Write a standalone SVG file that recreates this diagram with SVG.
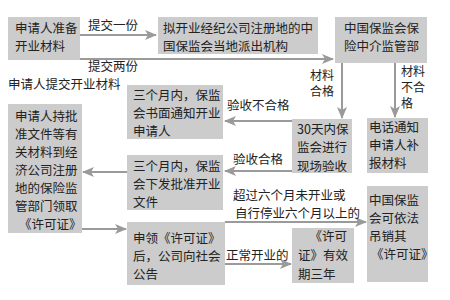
<svg xmlns="http://www.w3.org/2000/svg" width="450" height="300" viewBox="0 0 450 300">
<defs>
<marker id="ah" markerUnits="userSpaceOnUse" markerWidth="12" markerHeight="10" viewBox="0 0 12 10" refX="11" refY="5" orient="auto">
<path d="M0,0 L12,5 L0,10 L3,5 Z" fill="#9a9a9a"/>
</marker>
<style>
.box{fill:#cccccc;}
text{font-family:"Noto Sans CJK SC","Noto Sans",sans-serif;font-size:12.5px;fill:#222;}
.sm{font-size:12px;}
.c line{stroke:#9a9a9a;stroke-width:2;marker-end:url(#ah);}
</style>
</defs>
<rect width="450" height="300" fill="#ffffff"/>
<g id="n1"><rect class="box" x="8" y="17" width="72" height="43"/>
<text x="15" y="33">申请人准备</text><text x="15" y="51">开业材料</text></g>
<g id="n2"><rect class="box" x="158" y="17" width="160" height="37"/>
<text x="163" y="33">拟开业经纪公司注册地的中</text><text x="163" y="51">国保监会当地派出机构</text></g>
<g id="n3"><rect class="box" x="335" y="17" width="92" height="46"/>
<text x="344" y="33">中国保监会保</text><text x="344" y="51">险中介监管部</text></g>
<g id="n4"><rect class="box" x="127" y="85" width="96" height="54"/>
<text x="133" y="100">三个月内，保监</text><text x="133" y="118">会书面通知开业</text><text x="133" y="136">申请人</text></g>
<g id="n5"><rect class="box" x="8" y="104" width="74" height="129"/>
<text x="15" y="121">申请人持批</text><text x="15" y="139">准文件等有</text><text x="15" y="157">关材料到经</text><text x="15" y="175">济公司注册</text><text x="15" y="193">地的保险监</text><text x="15" y="211">管部门领取</text><text x="19" y="229">《许可证》</text></g>
<g id="n6"><rect class="box" x="127" y="155" width="96" height="55"/>
<text x="133" y="171">三个月内，保监</text><text x="133" y="189">会下发批准开业</text><text x="133" y="207">文件</text></g>
<g id="n7"><rect class="box" x="127" y="222" width="98" height="63"/>
<text x="133" y="243">申领《许可证》</text><text x="133" y="261">后，公司向社会</text><text x="133" y="279">公告</text></g>
<g id="n8"><rect class="box" x="292" y="119" width="60" height="54"/>
<text x="297" y="134">30天内保</text><text x="297" y="152">监会进行</text><text x="297" y="171">现场验收</text></g>
<g id="n9"><rect class="box" x="367" y="118" width="61" height="55"/>
<text x="369" y="132">电话通知</text><text x="369" y="150">申请人补</text><text x="369" y="168">报材料</text></g>
<g id="n10"><rect class="box" x="367" y="186" width="61" height="96"/>
<text x="369" y="205">中国保监</text><text x="369" y="223">会可依法</text><text x="369" y="241">吊销其</text><text x="371" y="259">《许可证》</text></g>
<g id="n11"><rect class="box" x="292" y="228" width="62" height="55"/>
<text x="347" y="241" text-anchor="end">《许可</text><text x="298" y="260">证》有效</text><text x="298" y="279">期三年</text></g>
<g id="connectors" class="c">
<line x1="80" y1="35" x2="156" y2="35"/>
<line x1="80" y1="59" x2="333" y2="59"/>
<line x1="342" y1="63" x2="342" y2="118"/>
<line x1="395" y1="63" x2="395" y2="117"/>
<line x1="292" y1="121" x2="225" y2="121"/>
<line x1="292" y1="171" x2="225" y2="171"/>
<line x1="127" y1="172" x2="83" y2="172"/>
<line x1="82" y1="229" x2="126" y2="229"/>
<line x1="225" y1="222" x2="366" y2="222"/>
<line x1="225" y1="264" x2="291" y2="264"/>
</g>
<g id="labels">
<text x="88" y="30">提交一份</text>
<text x="88" y="71">提交两份</text>
<text x="8" y="89">申请人提交开业材料</text>
<text class="sm" x="334" y="80" text-anchor="end">材料</text><text class="sm" x="334" y="96" text-anchor="end">合格</text>
<text class="sm" x="401" y="76">材料</text><text class="sm" x="401" y="92">不合</text><text class="sm" x="401" y="108">格</text>
<text x="227" y="110">验收不合格</text>
<text x="233" y="164">验收合格</text>
<text x="233" y="200">超过六个月未开业或</text>
<text x="235" y="218">自行停业六个月以上的</text>
<text x="226" y="260">正常开业的</text>
</g>
</svg>
